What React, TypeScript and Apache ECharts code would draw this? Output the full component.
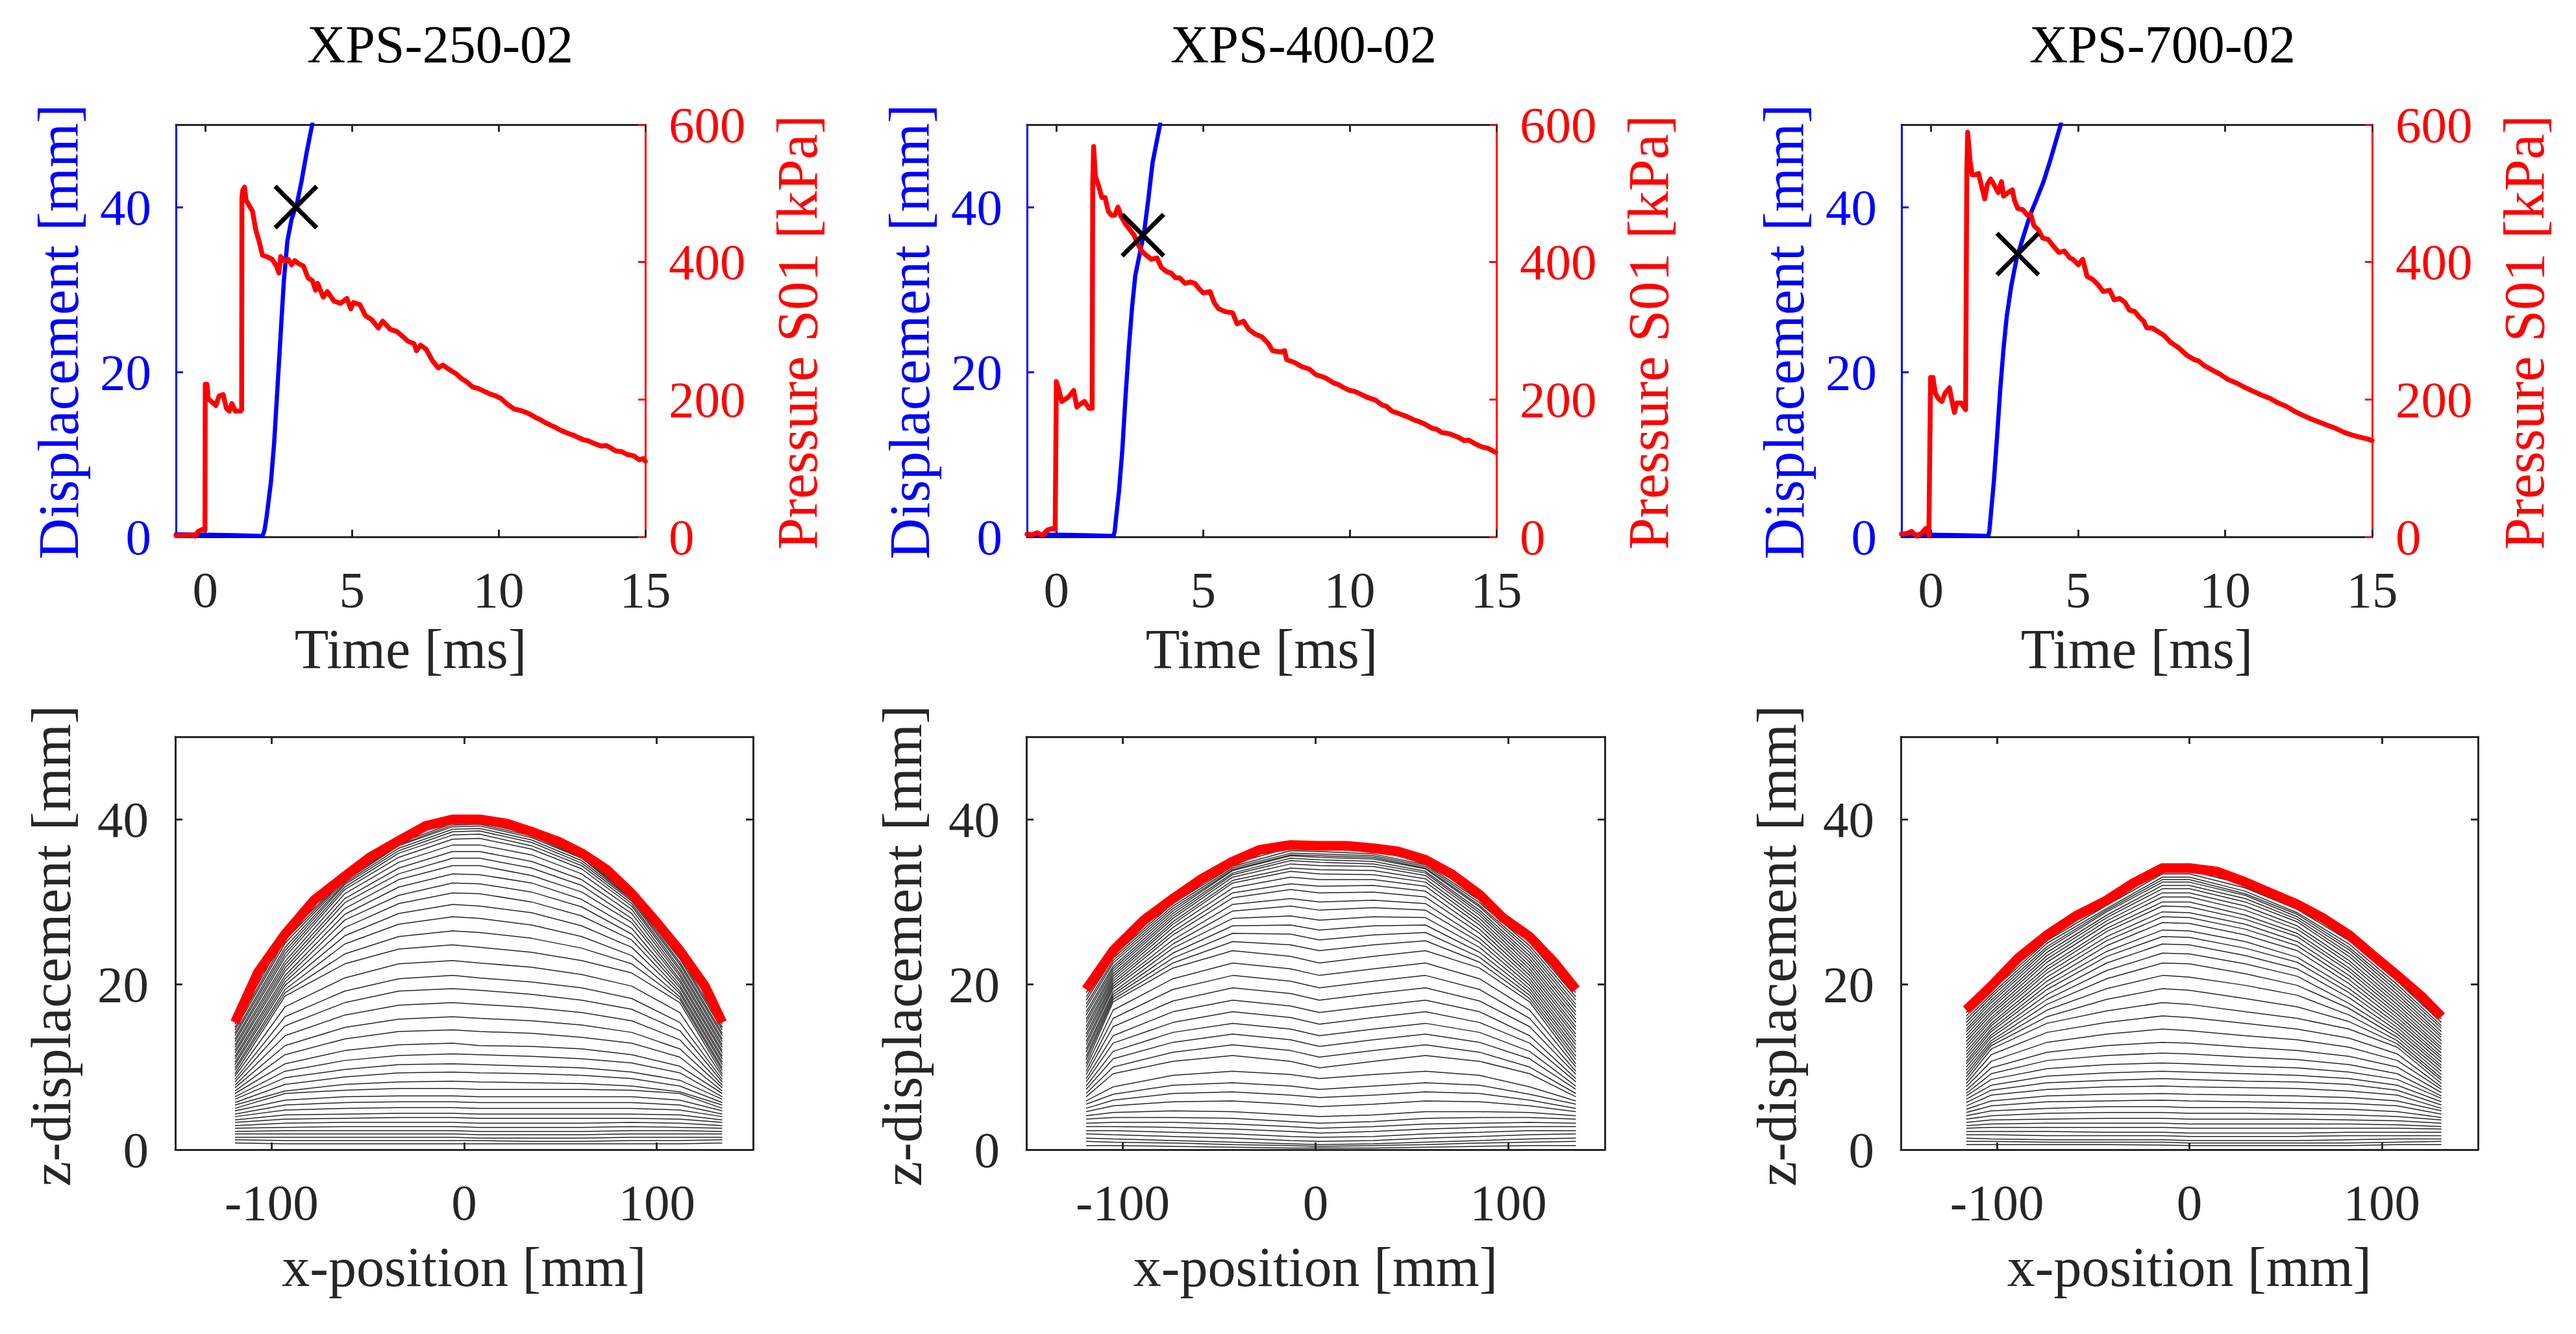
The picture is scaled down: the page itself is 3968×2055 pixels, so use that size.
import React, { useEffect, useRef } from 'react';
import * as echarts from 'echarts';

// ---------- texts & ticks ----------
const TITLES = ['XPS-250-02', 'XPS-400-02', 'XPS-700-02'];
const TIME_TICKS = [0, 5, 10, 15];
const DISP_TICKS = [0, 20, 40];
const PRESS_TICKS = [0, 200, 400, 600];
const XPOS_TICKS = [-100, 0, 100];
const Z_TICKS = [0, 20, 40];

// ---------- top row: pressure S01 [kPa] vs time [ms] ----------
const PRESS_250 = [[-1.0,2],[-0.72,2],[-0.5,3],[-0.35,1],[-0.24,8],[-0.09,11],[-0.01,10],[0,222],[0.06,222],[0.1,201],[0.21,197],[0.36,191],[0.47,205],[0.61,207],[0.72,187],[0.82,183],[0.91,194],[1.02,183],[1.21,183],[1.24,185],[1.25,494],[1.28,505],[1.34,509],[1.39,490],[1.5,482],[1.61,474],[1.72,447],[1.83,431],[1.95,410],[2.09,408],[2.28,404],[2.43,394],[2.51,384],[2.57,408],[2.68,402],[2.83,404],[2.94,396],[3.05,402],[3.17,398],[3.35,394],[3.5,377],[3.65,373],[3.76,359],[3.83,369],[4.02,349],[4.16,357],[4.39,343],[4.61,340],[4.83,347],[4.96,332],[5.05,341],[5.27,338],[5.46,322],[5.68,316],[5.9,304],[6.05,314],[6.31,302],[6.53,299],[6.75,291],[6.9,285],[7.12,281],[7.2,271],[7.34,279],[7.53,273],[7.75,256],[7.94,246],[8.1,250],[8.3,244],[8.56,237],[8.75,230],[8.9,226],[9.12,218],[9.3,216],[9.5,212],[9.7,208],[9.85,206],[10.06,202],[10.3,193],[10.53,186],[10.75,184],[11.0,180],[11.25,174],[11.4,171],[11.56,167],[11.8,162],[11.95,159],[12.12,155],[12.4,150],[12.55,148],[12.69,145],[12.9,141],[13.05,140],[13.25,136],[13.5,132],[13.65,133],[13.8,130],[14.0,125],[14.2,124],[14.37,120],[14.6,118],[14.8,112],[14.93,114],[15,110]];
const PRESS_400 = [[-1.0,4],[-0.81,3],[-0.66,6],[-0.48,2],[-0.3,10],[-0.15,12],[-0.04,11],[0,226],[0.07,217],[0.18,197],[0.33,201],[0.44,205],[0.59,213],[0.7,189],[0.81,193],[0.96,197],[1.11,187],[1.22,187],[1.24,513],[1.27,568],[1.33,525],[1.44,511],[1.55,494],[1.66,494],[1.77,474],[1.88,468],[1.99,468],[2.1,480],[2.21,466],[2.36,455],[2.51,447],[2.65,439],[2.77,427],[2.91,416],[3.06,410],[3.24,404],[3.43,406],[3.58,392],[3.76,386],[3.91,384],[4.06,377],[4.2,377],[4.39,369],[4.57,371],[4.72,369],[4.87,361],[5.01,355],[5.24,357],[5.38,341],[5.53,332],[5.75,328],[6.01,326],[6.16,310],[6.38,314],[6.56,302],[6.78,295],[7.01,291],[7.23,281],[7.37,271],[7.63,269],[7.78,271],[7.85,258],[8.11,254],[8.35,248],[8.63,244],[8.85,236],[9.0,234],[9.19,231],[9.45,224],[9.6,222],[9.76,218],[10.0,213],[10.15,212],[10.31,209],[10.6,203],[10.88,199],[11.1,192],[11.25,190],[11.44,183],[11.7,179],[12.01,174],[12.2,170],[12.35,168],[12.57,164],[12.8,158],[12.95,157],[13.13,152],[13.4,150],[13.7,145],[13.9,140],[14.05,141],[14.25,136],[14.5,131],[14.7,129],[14.98,123]];
const PRESS_700 = [[-1.0,4],[-0.81,5],[-0.66,8],[-0.48,1],[-0.3,6],[-0.18,12],[-0.07,2],[-0.01,232],[0.07,232],[0.15,209],[0.26,201],[0.37,197],[0.48,209],[0.63,217],[0.7,201],[0.8,181],[0.88,195],[1.03,195],[1.18,185],[1.22,529],[1.25,589],[1.33,548],[1.4,527],[1.51,527],[1.62,529],[1.73,509],[1.83,492],[1.92,513],[2.03,521],[2.14,513],[2.29,501],[2.4,517],[2.47,496],[2.62,501],[2.77,505],[2.84,490],[2.95,478],[3.13,476],[3.28,468],[3.39,470],[3.5,453],[3.65,447],[3.8,435],[3.98,433],[4.17,423],[4.35,414],[4.54,416],[4.72,406],[4.83,404],[5.01,396],[5.16,404],[5.31,379],[5.49,375],[5.68,367],[5.86,357],[6.08,359],[6.23,345],[6.42,347],[6.6,341],[6.75,330],[6.93,328],[7.08,320],[7.23,314],[7.34,304],[7.52,304],[7.71,299],[7.93,293],[8.15,283],[8.4,276],[8.71,264],[8.95,258],[9.1,256],[9.27,250],[9.55,243],[9.82,237],[10.1,229],[10.39,224],[10.65,218],[10.95,212],[11.2,207],[11.51,202],[11.8,195],[12.08,190],[12.35,183],[12.64,177],[12.9,172],[13.2,167],[13.5,162],[13.76,158],[14.05,152],[14.33,148],[14.6,145],[14.88,142],[15,140]];

// displacement [mm] vs time [ms]
const DISP_250 = [[-1,0.3],[0,0.25],[1,0.2],[1.95,0.1],[2.02,0.8],[2.09,2.4],[2.24,6.7],[2.35,11.5],[2.46,18.0],[2.57,24.6],[2.68,31.1],[2.8,35.9],[2.94,38.5],[3.13,40.5],[3.28,43.1],[3.46,46.7],[3.65,50.1]];
const DISP_400 = [[-1,0.3],[0,0.25],[1,0.2],[1.95,0.1],[1.99,0.7],[2.03,2.1],[2.14,5.7],[2.25,10.6],[2.36,17.1],[2.47,22.9],[2.58,27.8],[2.69,31.7],[2.84,34.3],[2.99,36.9],[3.13,40.8],[3.28,45.4],[3.54,50.1]];
const DISP_700 = [[-1,0.3],[0,0.25],[1,0.2],[1.95,0.1],[1.99,0.8],[2.03,2.4],[2.14,6.7],[2.25,12.2],[2.36,18.0],[2.47,22.9],[2.58,26.8],[2.73,30.4],[2.91,33.7],[3.13,36.3],[3.39,39.2],[3.61,41.1],[3.83,43.1],[4.06,45.7],[4.42,50.1]];

// X markers [time, displacement]
const MARK_250 = [3.09, 40.0];
const MARK_400 = [2.95, 36.6];
const MARK_700 = [2.95, 34.3];

// ---------- bottom row: z-displacement profiles ----------
const FINAL_X_250 = [-119,-107,-93,-78,-62,-49,-34,-20,-6,8,22,35,49,61,74,87,100,112,125,134];
const FINAL_Z_250 = [15.4,21.5,26.1,30.2,33.1,35.4,37.4,39.2,40.0,40.0,39.5,38.5,37.3,35.9,33.9,31.0,27.5,24.1,19.8,15.4];
const FINAL_X_400 = [-119,-105,-89,-74,-59,-43,-29,-13,2,16,30,43,57,71,85,97,111,124,135];
const FINAL_Z_400 = [19.4,24.1,27.8,30.4,32.8,34.9,36.3,36.9,36.8,36.8,36.5,36.1,35.1,33.3,30.9,28.1,25.8,22.6,19.4];
const FINAL_X_700 = [-116,-103,-89,-74,-59,-43,-29,-14,0,14,29,42,56,69,83,95,108,121,131];
const FINAL_Z_700 = [16.9,19.8,23.2,26.0,28.3,30.2,32.3,34.1,34.1,33.7,32.4,31.1,29.7,28.1,26.0,23.6,21.1,18.5,16.1];

const PROF_X_250 = [-119,-93,-62,-34,-6,8,35,61,87,112,134];
const PROF_250 = [
[0.8,0.7,0.7,0.7,0.7,0.7,0.7,0.7,0.7,0.7,0.8],
[1.2,1.1,1.1,1.1,1.1,1.1,1.0,1.0,1.1,1.1,1.2],
[1.5,1.5,1.5,1.5,1.5,1.4,1.4,1.4,1.5,1.5,1.5],
[1.9,1.9,1.9,1.9,1.9,1.8,1.8,1.8,1.9,1.9,1.9],
[2.2,2.3,2.3,2.3,2.3,2.2,2.2,2.2,2.3,2.3,2.2],
[2.6,2.7,2.8,2.8,2.8,2.7,2.7,2.7,2.8,2.7,2.6],
[2.9,3.2,3.3,3.3,3.3,3.2,3.2,3.2,3.3,3.2,2.9],
[3.3,3.7,3.8,3.9,3.9,3.8,3.8,3.8,3.8,3.7,3.3],
[3.6,4.2,4.3,4.4,4.4,4.3,4.3,4.3,4.3,4.2,3.6],
[4.0,4.8,5.0,5.1,5.1,5.0,5.0,5.0,5.0,4.8,4.0],
[4.3,5.4,5.7,5.8,5.8,5.7,5.7,5.7,5.7,5.4,4.3],
[4.7,6.0,6.4,6.5,6.5,6.4,6.4,6.4,6.4,6.0,4.7],
[5.0,6.8,7.2,7.4,7.4,7.3,7.3,7.3,7.2,6.8,5.0],
[5.4,7.1,7.9,8.2,8.3,8.2,8.1,8.0,7.7,7.0,5.4],
[5.7,7.9,8.8,9.3,9.4,9.3,9.2,9.0,8.6,7.7,5.7],
[6.1,8.7,9.7,10.3,10.4,10.3,10.1,9.9,9.4,8.4,6.1],
[6.4,9.5,10.8,11.4,11.6,11.5,11.3,11.0,10.5,9.3,6.4],
[6.8,10.4,12.0,12.7,12.9,12.6,12.5,12.2,11.5,10.1,6.8],
[7.1,11.5,13.4,14.3,14.5,14.3,14.1,13.6,12.9,11.2,7.1],
[7.5,12.6,14.8,15.8,16.1,15.9,15.6,15.1,14.2,12.2,7.5],
[7.8,13.8,16.3,17.5,17.8,17.6,17.2,16.6,15.6,13.3,7.8],
[8.2,15.0,17.8,19.2,19.5,19.3,18.8,18.1,17.0,14.4,8.2],
[8.5,16.1,19.2,20.7,21.1,20.8,20.3,19.6,18.3,15.4,8.5],
[8.9,17.3,20.8,22.5,22.9,22.6,22.1,21.2,19.8,16.6,8.9],
[9.2,18.6,22.5,24.3,24.8,24.5,23.9,22.9,21.4,17.8,9.2],
[9.6,19.0,23.7,25.8,26.5,26.3,25.6,24.4,22.5,18.2,9.6],
[9.9,19.4,24.9,27.3,28.2,28.0,27.2,25.8,23.5,18.5,9.9],
[10.3,19.9,25.9,28.6,29.7,29.5,28.7,27.1,24.5,18.9,10.3],
[10.6,20.3,26.9,29.8,31.1,31.0,30.0,28.3,25.4,19.2,10.6],
[11.0,20.7,27.8,30.8,32.3,32.2,31.2,29.4,26.1,19.6,11.0],
[11.3,21.1,28.5,31.8,33.4,33.3,32.3,30.3,26.8,19.9,11.3],
[11.7,21.6,29.2,32.7,34.4,34.4,33.2,31.2,27.5,20.3,11.7],
[12.0,22.0,29.9,33.4,35.3,35.3,34.1,32.0,28.0,20.6,12.0],
[12.4,22.4,30.4,34.1,36.1,36.1,34.9,32.7,28.6,21.0,12.4],
[12.7,22.8,31.0,34.8,36.9,36.9,35.7,33.4,29.1,21.3,12.7],
[13.1,23.3,31.5,35.4,37.6,37.7,36.4,34.0,29.5,21.7,13.1],
[13.4,23.7,31.8,35.9,38.1,38.2,36.8,34.4,29.8,22.0,13.4],
[13.8,24.1,32.1,36.2,38.5,38.6,37.2,34.7,30.1,22.4,13.8],
[14.1,24.5,32.3,36.5,38.8,38.9,37.5,35.0,30.3,22.7,14.1],
[14.5,25.0,32.5,36.8,39.1,39.2,37.8,35.3,30.4,23.1,14.5],
[14.8,25.4,32.7,36.9,39.3,39.4,38.0,35.4,30.6,23.4,14.8],
[15.2,25.8,32.8,37.1,39.5,39.6,38.2,35.6,30.7,23.8,15.2]];

const PROF_X_400 = [-119,-105,-74,-43,-13,2,30,57,85,111,135];
const PROF_400 = [
[0.5,0.5,0.4,0.3,0.2,0.2,0.2,0.3,0.4,0.5,0.5],
[1.0,0.9,0.8,0.6,0.5,0.4,0.5,0.6,0.8,0.9,1.0],
[1.4,1.3,1.1,0.9,0.7,0.6,0.7,0.9,1.1,1.3,1.4],
[1.9,1.8,1.6,1.4,1.1,1.0,1.1,1.4,1.6,1.8,1.9],
[2.3,2.3,2.1,1.9,1.6,1.5,1.6,1.9,2.1,2.3,2.3],
[2.8,2.8,2.7,2.5,2.2,2.0,2.2,2.5,2.7,2.8,2.8],
[3.2,3.3,3.3,3.1,2.8,2.6,2.8,3.1,3.2,3.3,3.2],
[3.7,3.9,3.9,3.8,3.4,3.2,3.4,3.8,3.9,3.9,3.7],
[4.1,4.5,4.7,4.6,4.2,4.0,4.2,4.6,4.6,4.5,4.1],
[4.6,5.3,5.8,5.9,5.5,5.2,5.5,5.9,5.8,5.3,4.6],
[5.0,6.0,6.8,7.0,6.6,6.3,6.6,7.0,6.8,6.0,5.0],
[5.5,6.7,7.8,8.1,7.7,7.3,7.7,8.1,7.8,6.7,5.5],
[5.9,7.6,9.0,9.5,9.1,8.6,9.1,9.5,9.0,7.6,5.9],
[6.4,9.2,10.7,11.4,10.7,9.9,10.7,11.4,10.7,9.2,6.4],
[6.8,10.0,11.8,12.7,12.0,11.2,12.0,12.7,11.8,10.0,6.8],
[7.3,11.0,13.0,14.0,13.3,12.5,13.3,14.0,13.0,11.0,7.3],
[7.7,11.9,14.2,15.3,14.6,13.8,14.6,15.3,14.2,11.9,7.7],
[8.2,12.9,15.4,16.7,16.0,15.2,16.0,16.7,15.4,12.9,8.2],
[8.6,13.8,16.7,18.1,17.4,16.6,17.4,18.1,16.7,13.8,8.6],
[9.1,14.9,18.0,19.6,18.9,18.1,18.9,19.6,18.0,14.9,9.1],
[9.5,15.9,19.4,21.1,20.4,19.6,20.4,21.1,19.4,15.9,9.5],
[10.0,16.9,20.7,22.6,21.9,21.1,21.9,22.6,20.7,16.9,10.0],
[10.4,17.9,22.0,24.1,23.4,22.6,23.4,24.1,22.0,17.9,10.4],
[10.9,18.2,22.6,25.2,24.8,24.1,24.8,25.3,22.7,18.3,10.9],
[11.3,18.5,23.2,26.2,26.1,25.4,26.0,26.3,23.3,18.7,11.3],
[11.8,18.8,23.8,27.1,27.2,26.6,27.1,27.2,23.9,19.1,11.8],
[12.2,19.1,24.4,28.0,28.3,27.8,28.2,28.1,24.5,19.5,12.2],
[12.7,19.5,24.9,28.9,29.5,29.0,29.3,29.0,25.1,19.9,12.7],
[13.1,19.8,25.4,29.7,30.4,30.0,30.2,29.8,25.6,20.3,13.1],
[13.6,20.1,26.0,30.5,31.5,31.1,31.2,30.6,26.2,20.7,13.6],
[14.0,20.4,26.4,31.1,32.2,31.9,32.0,31.3,26.7,21.1,14.0],
[14.5,20.7,26.9,31.7,33.0,32.7,32.7,31.9,27.2,21.5,14.5],
[14.9,21.0,27.3,32.3,33.7,33.4,33.3,32.4,27.6,21.9,14.9],
[15.4,21.3,27.6,32.6,34.1,33.9,33.8,32.8,28.0,22.3,15.4],
[15.8,21.6,28.0,33.0,34.6,34.4,34.3,33.2,28.4,22.7,15.8],
[16.3,21.9,28.3,33.3,35.0,34.8,34.6,33.5,28.7,23.1,16.3],
[16.7,22.2,28.6,33.5,35.3,35.1,34.9,33.7,29.0,23.5,16.7],
[17.2,22.6,28.9,33.8,35.6,35.4,35.2,34.0,29.4,23.9,17.2],
[17.6,22.9,29.2,33.9,35.7,35.6,35.4,34.1,29.6,24.3,17.6],
[18.1,23.2,29.5,34.1,35.9,35.8,35.6,34.3,29.9,24.7,18.1],
[18.5,23.5,29.8,34.3,36.2,36.1,35.8,34.5,30.2,25.1,18.5],
[19.0,23.8,30.1,34.6,36.6,36.5,36.2,34.8,30.6,25.5,19.0]];

const PROF_X_700 = [-116,-103,-74,-43,-14,0,29,56,83,108,131];
const PROF_700 = [
[0.6,0.6,0.6,0.6,0.55,0.5,0.5,0.5,0.5,0.6,0.6],
[1.0,1.0,0.9,0.9,0.9,0.8,0.8,0.8,0.8,0.9,1.0],
[1.4,1.3,1.2,1.2,1.2,1.1,1.1,1.1,1.2,1.3,1.3],
[1.8,1.8,1.7,1.7,1.7,1.6,1.6,1.6,1.7,1.7,1.7],
[2.2,2.2,2.2,2.1,2.1,2.0,2.0,2.0,2.1,2.1,2.1],
[2.6,2.7,2.7,2.7,2.7,2.6,2.6,2.6,2.6,2.6,2.5],
[2.9,3.1,3.2,3.2,3.2,3.1,3.1,3.1,3.1,3.0,2.8],
[3.3,3.6,3.7,3.8,3.8,3.7,3.7,3.7,3.6,3.5,3.2],
[3.7,4.1,4.4,4.5,4.5,4.4,4.4,4.3,4.2,4.0,3.6],
[4.1,4.7,5.0,5.2,5.2,5.1,5.1,5.0,4.9,4.6,3.9],
[4.5,5.3,5.8,5.9,6.0,5.9,5.8,5.7,5.6,5.3,4.3],
[4.9,5.9,6.5,6.7,6.8,6.7,6.6,6.5,6.3,5.9,4.7],
[5.3,6.6,7.3,7.6,7.7,7.6,7.5,7.4,7.1,6.6,5.0],
[5.7,7.2,8.1,8.4,8.6,8.5,8.3,8.2,7.9,7.2,5.4],
[6.1,7.8,8.9,9.3,9.5,9.4,9.2,9.0,8.6,7.8,5.8],
[6.5,8.5,9.8,10.3,10.5,10.4,10.1,9.9,9.4,8.5,6.2],
[6.8,9.2,10.8,11.4,11.7,11.6,11.2,10.9,10.3,9.2,6.5],
[7.2,9.9,11.8,12.6,13.0,12.9,12.4,12.0,11.3,10.0,6.9],
[7.6,10.7,13.0,14.0,14.6,14.4,13.8,13.3,12.4,10.8,7.3],
[8.0,11.5,14.2,15.4,16.2,16.0,15.3,14.6,13.5,11.6,7.6],
[8.4,12.2,15.3,16.8,17.8,17.6,16.7,15.9,14.6,12.4,8.0],
[8.8,12.6,16.1,18.2,19.5,19.3,18.3,17.3,15.5,12.8,8.4],
[9.2,12.9,16.9,19.5,21.1,20.9,19.9,18.7,16.3,13.2,8.7],
[9.6,13.2,17.6,20.7,22.6,22.5,21.3,19.9,17.1,13.6,9.1],
[10.0,13.6,18.2,21.7,23.8,23.7,22.5,21.0,17.7,14.0,9.5],
[10.4,13.9,18.8,22.6,24.9,24.8,23.5,21.9,18.4,14.4,9.9],
[10.7,14.3,19.4,23.4,25.8,25.7,24.4,22.7,19.0,14.8,10.2],
[11.1,14.6,19.9,24.0,26.6,26.5,25.2,23.3,19.5,15.2,10.6],
[11.5,15.0,20.4,24.7,27.5,27.4,26.0,24.1,20.1,15.6,11.0],
[11.9,15.3,20.9,25.3,28.2,28.1,26.7,24.7,20.6,16.0,11.3],
[12.3,15.7,21.4,25.8,28.8,28.7,27.3,25.2,21.1,16.4,11.7],
[12.7,16.0,21.8,26.4,29.5,29.4,27.9,25.8,21.6,16.8,12.1],
[13.1,16.4,22.2,26.8,30.0,30.0,28.4,26.2,22.0,17.2,12.4],
[13.5,16.7,22.7,27.3,30.6,30.6,29.0,26.7,22.5,17.6,12.8],
[13.9,17.1,23.1,27.7,31.1,31.1,29.5,27.1,22.9,18.0,13.2],
[14.3,17.4,23.5,28.1,31.6,31.6,30.0,27.6,23.4,18.4,13.6],
[14.6,17.8,23.9,28.4,32.0,32.0,30.4,27.9,23.8,18.8,13.9],
[15.0,18.1,24.3,28.8,32.4,32.4,30.8,28.2,24.2,19.2,14.3],
[15.4,18.5,24.6,29.0,32.7,32.7,31.0,28.5,24.5,19.6,14.7],
[15.8,18.8,25.0,29.2,33.0,33.0,31.3,28.7,24.9,20.0,15.0],
[16.2,19.2,25.3,29.6,33.4,33.4,31.7,29.1,25.3,20.4,15.4],
[16.6,19.5,25.7,29.9,33.8,33.8,32.1,29.4,25.7,20.8,15.8]];

// ---------- layout ----------
const W = 3968, H = 2055;
const FONT = '"Liberation Serif", "Times New Roman", Times, serif';
const DARK = '#262626';
const BLUE = '#0000ff';
const RED = '#ff0000';
const TOP_GRIDS = [
  { left: 271, top: 192, width: 723, height: 635 },
  { left: 1582, top: 192, width: 723, height: 635 },
  { left: 2929, top: 192, width: 725, height: 635 },
];
const BOT_GRIDS = [
  { left: 270, top: 1135, width: 890, height: 636 },
  { left: 1581, top: 1135, width: 891, height: 636 },
  { left: 2928, top: 1135, width: 889, height: 636 },
];
const TITLE_X = [678, 2008, 3331];

function axis(gridIndex, position, min, max, opts) {
  return {
    type: 'value', gridIndex, position, min, max,
    splitLine: { show: false },
    axisLine: { show: true, onZero: false, lineStyle: { color: opts.lineColor, width: 3 } },
    axisTick: { show: true, inside: true, length: 11, customValues: opts.ticks, lineStyle: { color: opts.lineColor, width: 3 } },
    axisLabel: opts.labels
      ? { show: true, customValues: opts.ticks, color: opts.labelColor, fontFamily: FONT, fontSize: 79, margin: opts.margin }
      : { show: false },
    ...(opts.interval ? { interval: opts.interval } : { splitNumber: 3 }),
  };
}

export default function App() {
  const ref = useRef(null);
  useEffect(() => {
    const chart = echarts.init(ref.current, null, { renderer: 'svg', width: W, height: H });
    const PRESS = [PRESS_250, PRESS_400, PRESS_700];
    const DISP = [DISP_250, DISP_400, DISP_700];
    const MARK = [MARK_250, MARK_400, MARK_700];
    const PX = [PROF_X_250, PROF_X_400, PROF_X_700];
    const PR = [PROF_250, PROF_400, PROF_700];
    const FX = [FINAL_X_250, FINAL_X_400, FINAL_X_700];
    const FZ = [FINAL_Z_250, FINAL_Z_400, FINAL_Z_700];

    const grid = [...TOP_GRIDS, ...BOT_GRIDS];
    const xAxis = [];
    const yAxis = [];
    const series = [];
    const graphic = [];
    const txt = (text, x, y, color, size, rot) => ({
      type: 'text', x, y, rotation: rot || 0, silent: true,
      style: { text, fill: color, fontFamily: FONT, fontSize: size, align: 'center', verticalAlign: 'middle', textAlign: 'center', textVerticalAlign: 'middle' },
    });

    for (let g = 0; g < 3; g++) {
      const gr = TOP_GRIDS[g];
      xAxis.push(axis(g, 'bottom', -1, 15, { lineColor: DARK, ticks: TIME_TICKS, labels: true, labelColor: DARK, margin: 42 }));
      xAxis.push(axis(g, 'top', -1, 15, { lineColor: DARK, ticks: TIME_TICKS, labels: false }));
      yAxis.push(axis(g, 'left', 0, 50, { lineColor: BLUE, ticks: DISP_TICKS, labels: true, labelColor: BLUE, margin: 38, interval: 10 }));
      yAxis.push(axis(g, 'right', 0, 600, { lineColor: RED, ticks: PRESS_TICKS, labels: true, labelColor: RED, margin: 36, interval: 200 }));
      series.push({ type: 'line', xAxisIndex: 2 * g, yAxisIndex: 2 * g, data: DISP[g], symbol: 'none', clip: true, z: 3, silent: true,
        lineStyle: { color: BLUE, width: 6.5, join: 'round', cap: 'round' } });
      series.push({ type: 'line', xAxisIndex: 2 * g, yAxisIndex: 2 * g + 1, data: PRESS[g], symbol: 'none', clip: true, z: 4, silent: true,
        lineStyle: { color: RED, width: 7.5, join: 'round', cap: 'round' } });
      series.push({ type: 'scatter', xAxisIndex: 2 * g, yAxisIndex: 2 * g, data: [MARK[g]], symbol: 'path://M0,0L10,10M10,0L0,10', symbolSize: 64, z: 6, silent: true,
        itemStyle: { color: 'transparent', borderColor: '#000000', borderWidth: 7, opacity: 1 } });
      graphic.push(txt(TITLES[g], TITLE_X[g], 68, '#000000', 82));
      graphic.push(txt('Time [ms]', gr.left + gr.width / 2, 1000, DARK, 86));
      graphic.push(txt('Displacement [mm]', gr.left - 181, 511, BLUE, 88, Math.PI / 2));
      graphic.push(txt('Pressure S01 [kPa]', gr.left + gr.width + 234, 512, RED, 88, Math.PI / 2));
    }
    for (let g = 0; g < 3; g++) {
      const gi = g + 3;
      const gr = BOT_GRIDS[g];
      xAxis.push(axis(gi, 'bottom', -150, 150, { lineColor: DARK, ticks: XPOS_TICKS, labels: true, labelColor: DARK, margin: 42, interval: 50 }));
      xAxis.push(axis(gi, 'top', -150, 150, { lineColor: DARK, ticks: XPOS_TICKS, labels: false, interval: 50 }));
      yAxis.push(axis(gi, 'left', 0, 50, { lineColor: DARK, ticks: Z_TICKS, labels: true, labelColor: DARK, margin: 41, interval: 10 }));
      yAxis.push(axis(gi, 'right', 0, 50, { lineColor: DARK, ticks: Z_TICKS, labels: false, interval: 10 }));
      PR[g].forEach((row) => {
        series.push({ type: 'line', xAxisIndex: 2 * gi, yAxisIndex: 2 * gi, data: PX[g].map((x, j) => [x, row[j]]), symbol: 'none', z: 2, silent: true,
          lineStyle: { color: '#262626', width: 1.5 } });
      });
      series.push({ type: 'line', xAxisIndex: 2 * gi, yAxisIndex: 2 * gi, data: FX[g].map((x, j) => [x, FZ[g][j]]), symbol: 'none', z: 3, silent: true,
        lineStyle: { color: RED, width: 15, join: 'round', cap: 'butt' } });
      graphic.push(txt('x-position [mm]', gr.left + gr.width / 2, 1952, DARK, 86));
      graphic.push(txt('z-displacement [mm]', gr.left - 192, 1457, DARK, 87, Math.PI / 2));
    }

    chart.setOption({
      animation: false,
      backgroundColor: '#ffffff',
      grid, xAxis, yAxis, series, graphic,
    });
    return () => chart.dispose();
  }, []);
  return <div ref={ref} style={{ position: 'fixed', left: 0, top: 0, width: W, height: H, background: '#fff' }} />;
}
